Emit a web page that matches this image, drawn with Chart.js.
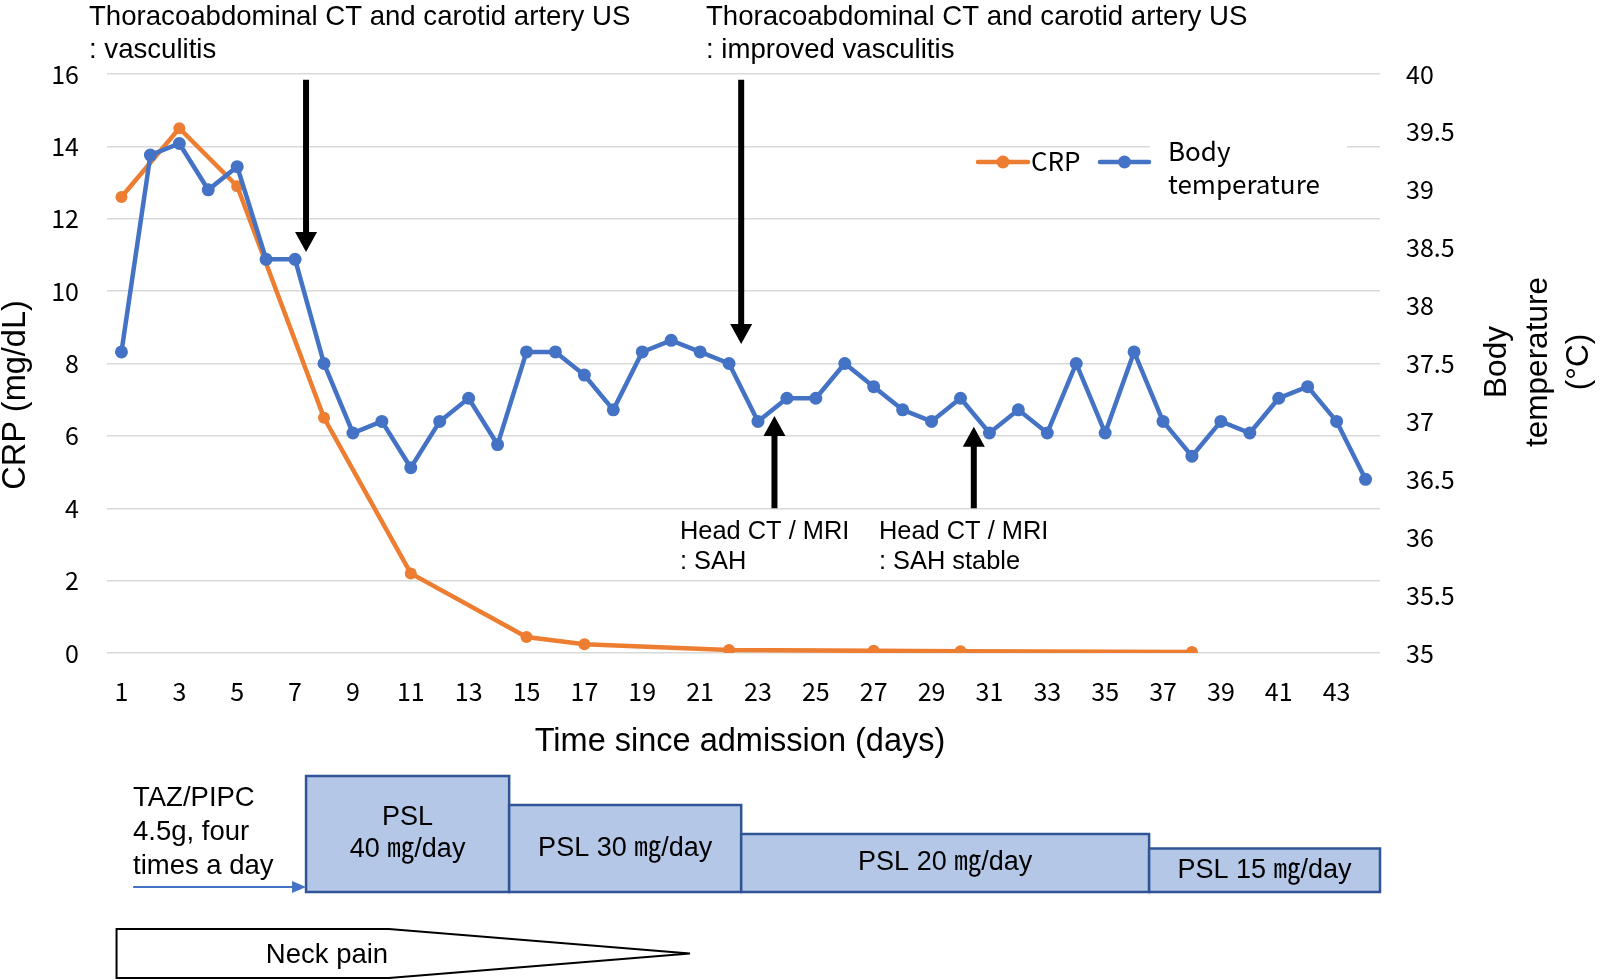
<!DOCTYPE html>
<html>
<head>
<meta charset="utf-8">
<script src="https://cdn.jsdelivr.net/npm/chart.js@4.4.1/dist/chart.umd.min.js"></script>
<style>
  html, body { margin: 0; padding: 0; background: #fff; }
  canvas { display: block; }
</style>
</head>
<body>
<canvas id="chart" width="1600" height="980"></canvas>
<script>
// --- data ---
const days = [1, 2, 3, 4, 5, 6, 7, 8, 9, 10, 11, 12, 13, 14, 15, 16, 17, 18, 19, 20, 21, 22,
  23, 24, 25, 26, 27, 28, 29, 30, 31, 32, 33, 34, 35, 36, 37, 38, 39, 40, 41, 42, 43, 44];

// CRP (mg/dL), only measured on some days
const crp = [12.6, null, 14.5, null, 12.9, null, null, 6.5, null, null, 2.2, null, null, null,
  0.44, null, 0.24, null, null, null, null, 0.08, null, null, null, null, 0.06, null, null, 0.05,
  null, null, null, null, null, null, null, 0.03, null, null, null, null, null, null];

// body temperature (°C)
const temperature = [37.6, 39.3, 39.4, 39.0, 39.2, 38.4, 38.4, 37.5, 36.9, 37.0, 36.6, 37.0,
  37.2, 36.8, 37.6, 37.6, 37.4, 37.1, 37.6, 37.7, 37.6, 37.5, 37.0, 37.2, 37.2, 37.5, 37.3,
  37.1, 37.0, 37.2, 36.9, 37.1, 36.9, 37.5, 36.9, 37.6, 37.0, 36.7, 37.0, 36.9, 37.2, 37.3,
  37.0, 36.5];

// imaging events: day, arrow from / to (in CRP units)
const noteDays = [7.38, 22.42, 23.57, 30.46];
const noteFrom = [15.84, 15.84, 4.0, 4.0];
const noteTo = [11.08, 8.54, 6.55, 6.25];
const noteText = [
  ['Thoracoabdominal CT and carotid artery US', ': vasculitis'],
  ['Thoracoabdominal CT and carotid artery US', ': improved vasculitis'],
  ['Head CT / MRI', ': SAH'],
  ['Head CT / MRI', ': SAH stable']
];

// prednisolone tapering
const pslLabels = [['PSL', '40 ㎎/day'], ['PSL 30 ㎎/day'], ['PSL 20 ㎎/day'], ['PSL 15 ㎎/day']];
const pslDose = [40, 30, 20, 15];
const pslStart = [7.38, 14.4, 22.42, 36.52];
const pslEnd = [14.4, 22.42, 36.52, 44.5];

const antibioticText = ['TAZ/PIPC', '4.5g, four', 'times a day'];
const antibioticDays = [1.43, 7.38];

const neckPainText = 'Neck pain';
const neckPainDays = [0.83, 10.24, 20.65];

// --- styling ---
const ORANGE = '#ed7d31';
const BLUE = '#4472c4';
const SANS = '"Liberation Sans", Arial, sans-serif';
const JP = '"Noto Sans CJK JP", sans-serif';
const MIXED = '"Liberation Sans", "Noto Sans CJK JP", sans-serif';
const notePos = [[89, 17], [706, 17], [680, 532], [879, 532]];

function drawLines(ctx, text, x, y, lh) {
  text.forEach((t, i) => ctx.fillText(t, x, y + i * lh));
}

function drawArrow(ctx, x, y0, y1) {
  const dir = Math.sign(y1 - y0);
  const headH = 20, headW = 11, shaft = 3;
  const yb = y1 - dir * headH;
  ctx.beginPath();
  ctx.moveTo(x - shaft, y0);
  ctx.lineTo(x + shaft, y0);
  ctx.lineTo(x + shaft, yb);
  ctx.lineTo(x + headW, yb);
  ctx.lineTo(x, y1);
  ctx.lineTo(x - headW, yb);
  ctx.lineTo(x - shaft, yb);
  ctx.closePath();
  ctx.fill();
}

function legendLine(ctx, x0, x1, y, color) {
  ctx.strokeStyle = color;
  ctx.fillStyle = color;
  ctx.lineWidth = 4.5;
  ctx.lineCap = 'round';
  ctx.beginPath();
  ctx.moveTo(x0, y);
  ctx.lineTo(x1, y);
  ctx.stroke();
  ctx.beginPath();
  ctx.arc((x0 + x1) / 2, y, 6.5, 0, Math.PI * 2);
  ctx.fill();
}

const overlay = {
  id: 'overlay',
  afterDraw(chart) {
    const ctx = chart.ctx;
    const xs = chart.scales.x, ys = chart.scales.y;
    const px = d => xs.getPixelForValue(d - 1);
    const py = v => ys.getPixelForValue(v);
    ctx.save();

    // legend (inside plot, Excel style)
    ctx.fillStyle = '#fff';
    ctx.fillRect(1150, 132, 197, 66);
    legendLine(ctx, 978, 1028, 162, ORANGE);
    legendLine(ctx, 1100, 1149, 162, BLUE);
    ctx.fillStyle = '#000';
    ctx.font = '26px ' + JP;
    ctx.textBaseline = 'middle';
    ctx.textAlign = 'left';
    ctx.fillText('CRP', 1031, 161);
    drawLines(ctx, ['Body', 'temperature'], 1168, 151, 33);

    // axis titles
    ctx.font = '32.5px ' + SANS;
    ctx.textAlign = 'center';
    ctx.fillText('Time since admission (days)', 740, 742);
    ctx.save();
    ctx.translate(16, 395);
    ctx.rotate(-Math.PI / 2);
    ctx.fillText('CRP (mg/dL)', 0, 0);
    ctx.restore();
    ctx.font = '31.5px ' + SANS;
    ctx.save();
    ctx.translate(1537, 362);
    ctx.rotate(-Math.PI / 2);
    drawLines(ctx, ['Body', 'temperature', '(°C)'], 0, -40, 41);
    ctx.restore();

    // imaging arrows + labels
    ctx.fillStyle = '#000';
    noteDays.forEach((d, i) => {
      drawArrow(ctx, px(d), py(noteFrom[i]), py(noteTo[i]));
      ctx.font = (i < 2 ? '27.6px ' : '25.4px ') + SANS;
      ctx.textAlign = 'left';
      drawLines(ctx, noteText[i], notePos[i][0], notePos[i][1], i < 2 ? 33 : 29.5);
    });

    // PSL boxes, height follows the dose
    const base = 892;
    pslDose.forEach((dose, i) => {
      const x0 = px(pslStart[i]), x1 = px(pslEnd[i]);
      const top = base - dose * 2.9;
      ctx.fillStyle = '#b4c7e7';
      ctx.fillRect(x0, top, x1 - x0, base - top);
      ctx.strokeStyle = '#2f5597';
      ctx.lineWidth = 2.5;
      ctx.strokeRect(x0, top, x1 - x0, base - top);
      ctx.fillStyle = '#000';
      ctx.font = '27px ' + MIXED;
      ctx.textAlign = 'center';
      const lines = pslLabels[i];
      const cy = (top + base) / 2 - (lines.length - 1) * 16;
      drawLines(ctx, lines, (x0 + x1) / 2, cy, 32);
    });

    // antibiotic
    ctx.font = '27.5px ' + SANS;
    ctx.textAlign = 'left';
    drawLines(ctx, antibioticText, 133, 798, 34);
    const ax0 = px(antibioticDays[0]), ax1 = px(antibioticDays[1]);
    ctx.strokeStyle = BLUE;
    ctx.fillStyle = BLUE;
    ctx.lineWidth = 2;
    ctx.beginPath();
    ctx.moveTo(ax0, 887);
    ctx.lineTo(ax1 - 12, 887);
    ctx.stroke();
    ctx.beginPath();
    ctx.moveTo(ax1, 887);
    ctx.lineTo(ax1 - 14, 881);
    ctx.lineTo(ax1 - 14, 893);
    ctx.closePath();
    ctx.fill();

    // neck pain tapering arrow
    const n0 = px(neckPainDays[0]), n1 = px(neckPainDays[1]), n2 = px(neckPainDays[2]);
    ctx.beginPath();
    ctx.moveTo(n0, 929);
    ctx.lineTo(n1, 929);
    ctx.lineTo(n2, 953.5);
    ctx.lineTo(n1, 978);
    ctx.lineTo(n0, 978);
    ctx.closePath();
    ctx.fillStyle = '#fff';
    ctx.fill();
    ctx.strokeStyle = '#000';
    ctx.lineWidth = 2;
    ctx.stroke();
    ctx.fillStyle = '#000';
    ctx.textAlign = 'center';
    ctx.fillText(neckPainText, 327, 955);

    ctx.restore();
  }
};

new Chart(document.getElementById('chart'), {
  type: 'line',
  data: {
    labels: days,
    datasets: [
      {
        label: 'CRP',
        data: crp,
        yAxisID: 'y',
        borderColor: ORANGE,
        backgroundColor: ORANGE,
        borderWidth: 4.5,
        pointRadius: 6,
        pointBorderWidth: 0,
        spanGaps: true,
        order: 2
      },
      {
        label: 'Body temperature',
        data: temperature,
        yAxisID: 'y1',
        borderColor: BLUE,
        backgroundColor: BLUE,
        borderWidth: 4.5,
        pointRadius: 6.5,
        pointBorderWidth: 0,
        order: 1
      }
    ]
  },
  options: {
    responsive: false,
    animation: false,
    devicePixelRatio: 1,
    layout: { padding: { top: 74, bottom: 247, left: 0, right: 0 } },
    plugins: {
      legend: { display: false },
      tooltip: { enabled: false }
    },
    scales: {
      x: {
        offset: true,
        grid: { display: false, drawTicks: false },
        border: { display: false },
        afterFit: s => { s.height = 80; },
        ticks: {
          autoSkip: false,
          maxRotation: 0,
          padding: 23,
          color: '#000',
          font: { family: JP, size: 25 },
          callback: (v, i) => (i % 2 === 0 ? days[i] : '')
        }
      },
      y: {
        position: 'left',
        min: 0,
        max: 16,
        afterFit: s => { s.width = 107; },
        grid: { color: '#d9d9d9', lineWidth: 1.5, drawTicks: false },
        border: { display: false },
        ticks: { stepSize: 2, padding: 28, color: '#000', font: { family: JP, size: 25 } }
      },
      y1: {
        position: 'right',
        min: 35,
        max: 40,
        afterFit: s => { s.width = 220; },
        grid: { display: false, drawTicks: false },
        border: { display: false },
        ticks: {
          stepSize: 0.5,
          padding: 26,
          color: '#000',
          font: { family: JP, size: 25 },
          callback: v => String(v)
        }
      }
    }
  },
  plugins: [overlay]
});
</script>
</body>
</html>
